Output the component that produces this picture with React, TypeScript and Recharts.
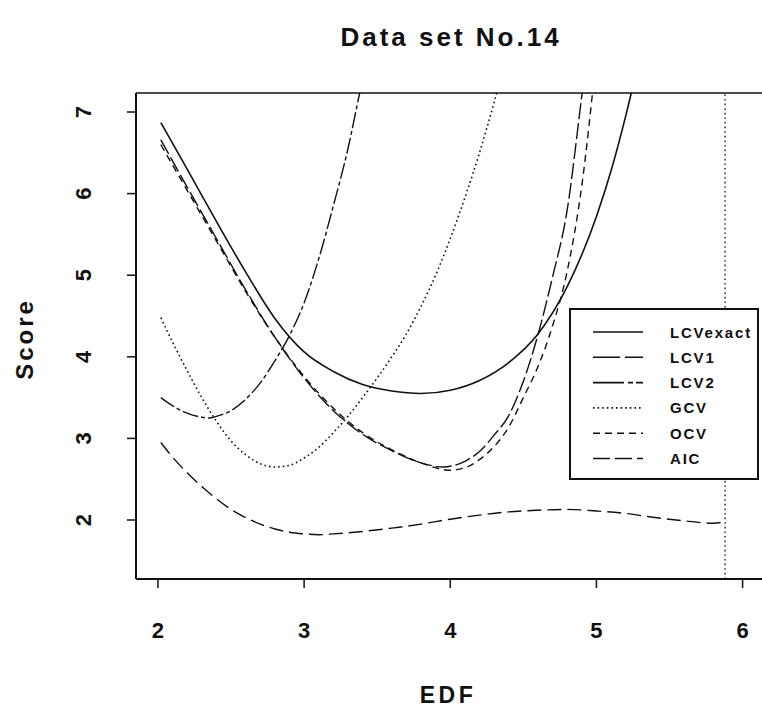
import React from "react";
import { LineChart, Line, XAxis, YAxis, ReferenceLine, Legend } from "recharts";

// EDF / score pairs, one pair of arrays per criterion
const lcvExactEdf = [2.02, 2.2, 2.4, 2.6, 2.8, 3.0, 3.2, 3.4, 3.6, 3.8, 4.0, 4.2, 4.4, 4.6, 4.8, 5.0, 5.1, 5.2, 5.28];
const lcvExactScore = [6.87, 6.3, 5.66, 5.04, 4.47, 4.06, 3.82, 3.66, 3.58, 3.55, 3.59, 3.71, 3.93, 4.28, 4.86, 5.72, 6.28, 6.95, 7.55];

const lcv1Edf = [2.02, 2.2, 2.4, 2.6, 2.8, 3.0, 3.2, 3.4, 3.6, 3.8, 3.95, 4.1, 4.2, 4.3, 4.4, 4.5, 4.6, 4.7, 4.8, 4.9, 4.95];
const lcv1Score = [6.66, 6.08, 5.45, 4.82, 4.24, 3.74, 3.34, 3.05, 2.85, 2.7, 2.65, 2.72, 2.84, 3.04, 3.28, 3.7, 4.27, 4.98, 5.8, 7.2, 7.9];

const lcv2Edf = [2.02, 2.1, 2.2, 2.3, 2.35, 2.4, 2.5, 2.6, 2.7, 2.8, 2.9, 3.0, 3.1, 3.2, 3.3, 3.38, 3.45];
const lcv2Score = [3.5, 3.4, 3.31, 3.26, 3.25, 3.27, 3.34, 3.48, 3.68, 3.95, 4.26, 4.66, 5.2, 5.85, 6.55, 7.23, 7.8];

const gcvEdf = [2.02, 2.1, 2.2, 2.3, 2.4, 2.5, 2.6, 2.7, 2.8, 2.9, 3.0, 3.1, 3.2, 3.3, 3.4, 3.5, 3.6, 3.7, 3.8, 3.9, 4.0, 4.1, 4.2, 4.3, 4.4];
const gcvScore = [4.48, 4.18, 3.83, 3.5, 3.21, 2.97, 2.8, 2.69, 2.65, 2.67, 2.76, 2.89, 3.07, 3.27, 3.5, 3.74, 4.0, 4.28, 4.62, 5.0, 5.45, 5.95, 6.5, 7.12, 7.8];

const ocvEdf = [2.02, 2.2, 2.4, 2.6, 2.8, 3.0, 3.2, 3.4, 3.6, 3.8, 4.0, 4.1, 4.2, 4.3, 4.4, 4.5, 4.6, 4.7, 4.8, 4.9, 5.0];
const ocvScore = [6.6, 6.04, 5.42, 4.8, 4.24, 3.76, 3.37, 3.07, 2.86, 2.7, 2.61, 2.64, 2.74, 2.9, 3.14, 3.5, 3.88, 4.38, 5.05, 6.1, 7.7];

const aicEdf = [2.02, 2.1, 2.2, 2.3, 2.4, 2.5, 2.6, 2.7, 2.8, 2.9, 3.0, 3.1, 3.2, 3.4, 3.6, 3.8, 4.0, 4.2, 4.4, 4.6, 4.8, 5.0, 5.2, 5.4, 5.6, 5.8, 5.88];
const aicScore = [2.95, 2.77, 2.58, 2.41, 2.26, 2.13, 2.03, 1.95, 1.89, 1.85, 1.83, 1.82, 1.83, 1.86, 1.9, 1.95, 2.01, 2.06, 2.1, 2.12, 2.13, 2.11, 2.08, 2.03, 1.99, 1.96, 1.98];

const xTicks = [2, 3, 4, 5, 6];
const yTicks = [2, 3, 4, 5, 6, 7];
const chosenEdf = 5.88;

// plot box in page pixels (the right edge runs off the picture)
const PLOT_LEFT = 136;
const PLOT_TOP = 93;
const PLOT_RIGHT = 766;
const PLOT_BOTTOM = 579;
const CHART_W = 780;
const CHART_H = 715;
const X_DOMAIN: [number, number] = [1.85, 6.16];
const Y_DOMAIN: [number, number] = [1.277, 7.233];

const FONT = "'Liberation Sans', Arial, Helvetica, sans-serif";
const INK = "#111";

const zip = (xs: number[], ys: number[]) => xs.map((x, i) => ({ edf: x, score: ys[i] }));

const series = [
  { name: "LCVexact", data: zip(lcvExactEdf, lcvExactScore), dash: undefined, legend: undefined, width: 1.6 },
  { name: "LCV1", data: zip(lcv1Edf, lcv1Score), dash: "16 4", legend: "27 5", width: 1.4 },
  { name: "LCV2", data: zip(lcv2Edf, lcv2Score), dash: "16 3 4 3", legend: "31 4 5 3 7", width: 1.4 },
  { name: "GCV", data: zip(gcvEdf, gcvScore), dash: "1.6 3", legend: "1.6 3", width: 1.6 },
  { name: "OCV", data: zip(ocvEdf, ocvScore), dash: "7 5", legend: "7 5", width: 1.4 },
  { name: "AIC", data: zip(aicEdf, aicScore), dash: "14 6", legend: "17 5 17 5", width: 1.4 },
];

const XTick = (props: any) => {
  const { x, payload } = props;
  return (
    <text x={x} y={PLOT_BOTTOM + 59} textAnchor="middle" fontFamily={FONT} fontWeight="bold" fontSize={22} fill={INK}>
      {payload.value}
    </text>
  );
};

const YTick = (props: any) => {
  const { y, payload } = props;
  const bx = PLOT_LEFT - 45;
  return (
    <text x={bx} y={y} transform={`rotate(-90 ${bx} ${y})`} textAnchor="middle" fontFamily={FONT} fontWeight="bold" fontSize={22} fill={INK}>
      {payload.value}
    </text>
  );
};

// keep the legend in plotting order (Recharts sorts by name otherwise)
const LegendBox = () => (
  <svg width={190} height={172} style={{ display: "block" }}>
    <rect x={1} y={1} width={188} height={170} fill="#fff" stroke={INK} strokeWidth={2} />
    {series.map((s, i) => {
      const cy = 24 + i * 25.3;
      return (
        <g key={s.name}>
          <line x1={24} x2={74} y1={cy} y2={cy} stroke={INK} strokeWidth={1.6} strokeDasharray={s.legend} />
          <text x={101} y={cy + 5.5} fontFamily={FONT} fontWeight="bold" fontSize={15} letterSpacing={1.8} fill={INK}>
            {s.name}
          </text>
        </g>
      );
    })}
  </svg>
);

export default function App() {
  return (
    <div style={{ position: "absolute", left: 0, top: 0, width: 762, height: 715, overflow: "hidden", background: "#fff" }}>
      <div
        style={{
          position: "absolute",
          left: 0,
          top: 22,
          width: PLOT_LEFT + PLOT_RIGHT,
          textAlign: "center",
          fontFamily: FONT,
          fontWeight: "bold",
          fontSize: 26,
          letterSpacing: 3,
          color: INK,
          lineHeight: "30px",
        }}
      >
        Data set No.14
      </div>
      <LineChart
        width={CHART_W}
        height={CHART_H}
        margin={{ top: PLOT_TOP, left: PLOT_LEFT - 60, right: CHART_W - PLOT_RIGHT, bottom: CHART_H - PLOT_BOTTOM - 60 }}
      >
        <XAxis
          type="number"
          dataKey="edf"
          domain={X_DOMAIN}
          ticks={xTicks}
          allowDataOverflow
          height={60}
          tickSize={9}
          tick={<XTick />}
          axisLine={{ stroke: INK, strokeWidth: 2 }}
          tickLine={{ stroke: INK, strokeWidth: 1.5 }}
          label={{
            content: () => (
              <text x={448} y={PLOT_BOTTOM + 124} textAnchor="middle" fontFamily={FONT} fontWeight="bold" fontSize={23} letterSpacing={3.5} fill={INK}>
                EDF
              </text>
            ),
          }}
        />
        <YAxis
          type="number"
          dataKey="score"
          domain={Y_DOMAIN}
          ticks={yTicks}
          allowDataOverflow
          width={60}
          tickSize={9}
          tick={<YTick />}
          axisLine={{ stroke: INK, strokeWidth: 2 }}
          tickLine={{ stroke: INK, strokeWidth: 1.5 }}
          label={{
            content: () => (
              <text
                x={33}
                y={339}
                transform="rotate(-90 33 339)"
                textAnchor="middle"
                fontFamily={FONT}
                fontWeight="bold"
                fontSize={24}
                letterSpacing={3}
                fill={INK}
              >
                Score
              </text>
            ),
          }}
        />
        <ReferenceLine y={Y_DOMAIN[1]} stroke={INK} strokeWidth={1.6} />
        <ReferenceLine x={chosenEdf} stroke={INK} strokeWidth={1.3} strokeDasharray="1.6 3" />
        {series.map((s) => (
          <Line
            key={s.name}
            name={s.name}
            data={s.data}
            dataKey="score"
            type="monotone"
            stroke={INK}
            strokeWidth={s.width}
            strokeDasharray={s.dash}
            dot={false}
            activeDot={false}
            isAnimationActive={false}
          />
        ))}
        <Legend
          layout="vertical"
          align="center"
          verticalAlign="middle"
          content={<LegendBox />}
          wrapperStyle={{ left: 569, top: 308, width: 190, height: 172 }}
        />
      </LineChart>
    </div>
  );
}
